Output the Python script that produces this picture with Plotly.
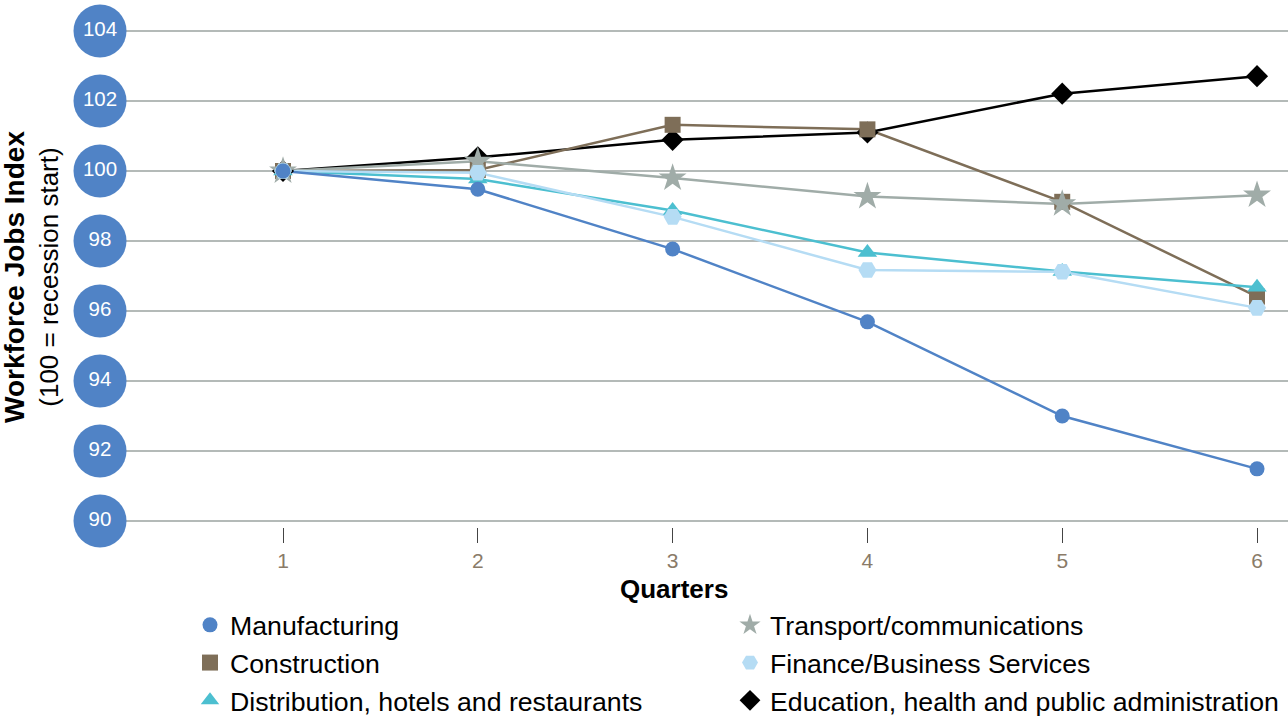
import plotly.graph_objects as go

# Quarterly workforce jobs index by sector (100 = start of recession)
quarters = [1, 2, 3, 4, 5, 6]
manufacturing = [100, 99.48, 97.77, 95.69, 93.00, 91.49]
construction = [100, 100.03, 101.32, 101.19, 99.12, 96.41]
distribution = [100, 99.77, 98.87, 97.67, 97.13, 96.68]
transport = [100, 100.28, 99.80, 99.27, 99.06, 99.31]
finance = [100, 99.95, 98.69, 97.17, 97.12, 96.09]
education = [100, 100.39, 100.89, 101.10, 102.21, 102.71]

y_ticks = [90, 92, 94, 96, 98, 100, 102, 104]
y_tick_labels = [str(v) for v in y_ticks]
x_tick_labels = [str(q) for q in quarters]

FONT = "Liberation Sans, Arial, Helvetica, sans-serif"
BADGE_BLUE = "#5083c6"

# name, values, colour, symbol, size, legend, legend rank; listed bottom-to-top
series = [
    ("Education, health and public administration", education, "#000000", "diamond", 17, "legend2", 6),
    ("Construction", construction, "#7e6e58", "square", 16, "legend", 2),
    ("Distribution, hotels and restaurants", distribution, "#4cbfd0", "triangle-up", 17, "legend", 3),
    ("Transport/communications", transport, "#a0aca8", "star", 21, "legend2", 4),
    ("Finance/Business Services", finance, "#b5dcf4", "hexagon2", 18, "legend2", 5),
    ("Manufacturing", manufacturing, BADGE_BLUE, "circle", 15, "legend", 1),
]

fig = go.Figure()

# connecting lines
for name, vals, color, symbol, size, leg, rank in series:
    fig.add_trace(go.Scatter(
        x=quarters, y=vals, mode="lines", name=name,
        line=dict(color=color, width=2.5),
        showlegend=False, hoverinfo="skip",
    ))

# point markers (these carry the legend entries)
for name, vals, color, symbol, size, leg, rank in series:
    fig.add_trace(go.Scatter(
        x=quarters, y=vals, mode="markers", name=name,
        marker=dict(color=color, symbol=symbol, size=size, line=dict(width=0)),
        legend=leg, legendrank=rank,
    ))

# round badges carrying the y tick labels, in a narrow strip left of the plot;
# the strip's y axis has the same px-per-unit scale as the main one
badge_x = [100] * len(y_ticks)
fig.add_trace(go.Scatter(
    x=badge_x, y=y_ticks, mode="markers+text", xaxis="x2", yaxis="y2",
    text=y_tick_labels, textposition="middle center",
    textfont=dict(family=FONT, size=20.5, color="#ffffff"),
    marker=dict(color=BADGE_BLUE, size=53, line=dict(width=0)),
    cliponaxis=False, showlegend=False, hoverinfo="skip",
))

fig.update_layout(
    width=1288, height=718,
    margin=dict(l=0, r=0, t=0, b=0, autoexpand=False),
    paper_bgcolor="#ffffff", plot_bgcolor="rgba(0,0,0,0)",
    font=dict(family=FONT, color="#000000"),
    xaxis=dict(
        domain=[0.09705, 1], anchor="y",
        range=[0.1889, 6.159], tickmode="array", tickvals=quarters, ticktext=x_tick_labels,
        showgrid=False, zeroline=False, showline=False,
        ticks="outside", ticklen=15, tickwidth=1, tickcolor="#444444",
        ticklabelstandoff=0,
        tickfont=dict(family=FONT, size=21, color="#8a7b68"),
    ),
    yaxis=dict(
        domain=[0.266017, 1], anchor="x",
        range=[89.829, 104.886], tickmode="array", tickvals=y_ticks,
        showticklabels=False, showgrid=True, gridcolor="#b4bab8", gridwidth=1.5,
        zeroline=False, showline=False, ticks="",
    ),
    xaxis2=dict(domain=[0, 0.09705], anchor="y2", range=[0, 125], visible=False),
    yaxis2=dict(domain=[0.220056, 1], anchor="x2", range=[88.886, 104.886], visible=False),
    legend=dict(
        x=0.14752, y=0.16295, xanchor="left", yanchor="top", orientation="v",
        font=dict(family=FONT, size=26.7, color="#000000"),
        bgcolor="rgba(0,0,0,0)", borderwidth=0, traceorder="normal",
    ),
    legend2=dict(
        x=0.56677, y=0.16295, xanchor="left", yanchor="top", orientation="v",
        font=dict(family=FONT, size=26.7, color="#000000"),
        bgcolor="rgba(0,0,0,0)", borderwidth=0, traceorder="normal",
    ),
    annotations=[
        dict(
            text="<b><span style='font-size:28px'>Workforce Jobs Index</span></b>"
                 "<br>(100 = recession start)",
            xref="paper", yref="paper", x=0.0241, y=0.6142,
            xanchor="center", yanchor="middle",
            textangle=-90, showarrow=False, align="center",
            font=dict(family=FONT, size=26, color="#000000"),
        ),
        dict(
            text="<b>Quarters</b>", xref="paper", yref="paper",
            x=0.5233, y=0.1797, xanchor="center", yanchor="middle", showarrow=False,
            font=dict(family=FONT, size=26, color="#000000"),
        ),
    ],
)

fig.write_html("out.html")
